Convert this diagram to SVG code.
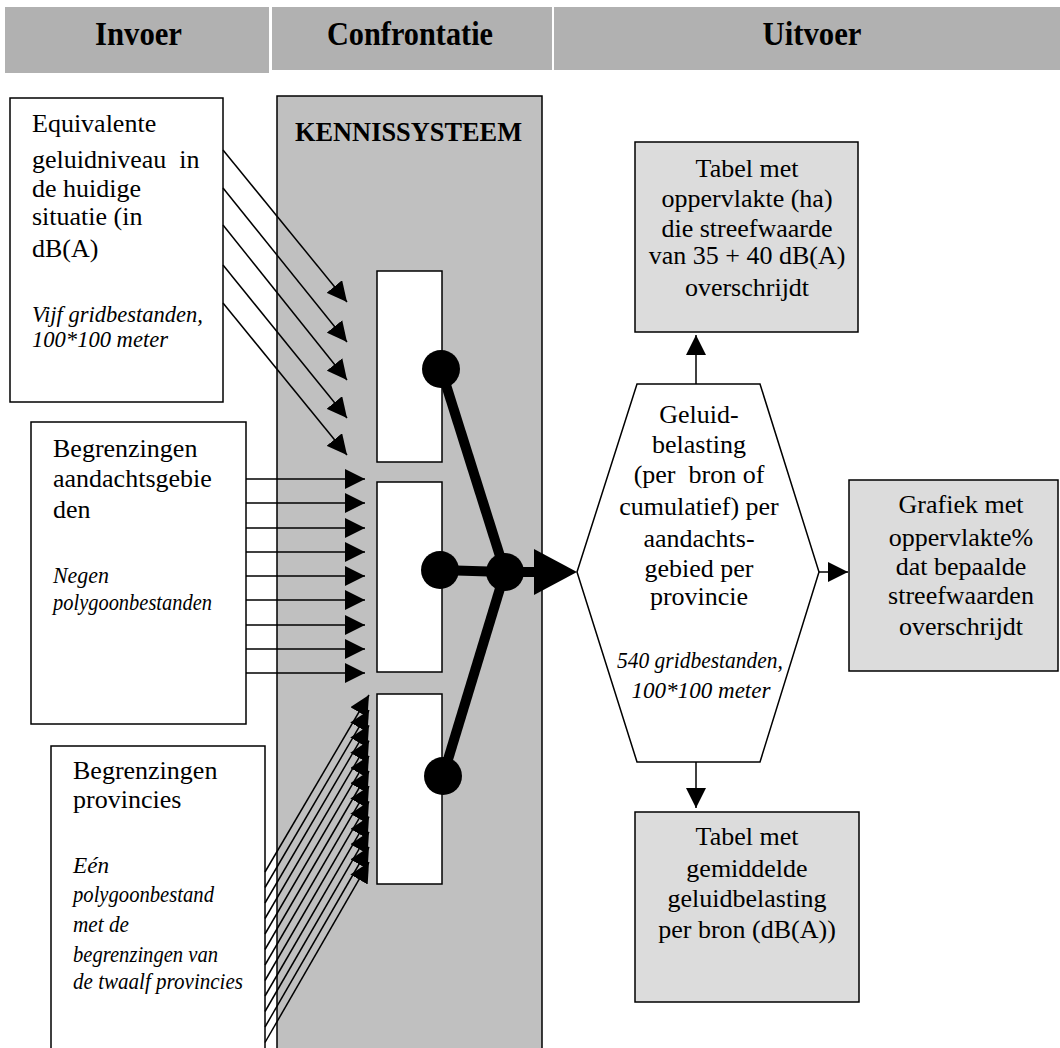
<svg xmlns="http://www.w3.org/2000/svg" width="1060" height="1048" viewBox="0 0 1060 1048">
<style>
.hdr{fill:#b1b1b1;stroke:none}
.ht{font-family:"Liberation Serif",serif;font-weight:bold;font-size:34px;fill:#000;text-anchor:middle}
.box{fill:#fff;stroke:#000;stroke-width:1.5}
.gbox{fill:#dcdcdc;stroke:#000;stroke-width:1.5}
.col{fill:#c0c0c0;stroke:#000;stroke-width:1.5}
.t{font-family:"Liberation Serif",serif;font-size:26px;fill:#000}
.i{font-family:"Liberation Serif",serif;font-size:24px;font-style:italic;fill:#000}
.c{text-anchor:middle}
.ar{stroke:#000;stroke-width:1.5;fill:none;marker-end:url(#ah)}
.thick{stroke:#000;stroke-width:10;fill:none}
</style>
<defs>
<marker id="ah" viewBox="0 0 20 20" refX="20" refY="10" markerWidth="20" markerHeight="20" markerUnits="userSpaceOnUse" orient="auto">
<path d="M0,0 L20,10 L0,20 z" fill="#000"/>
</marker>
</defs>

<g id="header">
<rect class="hdr" x="5" y="7" width="264" height="66"/>
<rect class="hdr" x="272" y="7" width="280" height="63"/>
<rect class="hdr" x="554" y="7" width="506" height="63"/>
<text class="ht" x="138.5" y="45" textLength="87" lengthAdjust="spacingAndGlyphs">Invoer</text>
<text class="ht" x="410" y="45" textLength="166" lengthAdjust="spacingAndGlyphs">Confrontatie</text>
<text class="ht" x="812" y="45" textLength="99" lengthAdjust="spacingAndGlyphs">Uitvoer</text>
</g>

<g id="kennissysteem">
<rect class="col" x="277" y="96" width="265" height="970"/>
<text x="408.5" y="141" font-family="Liberation Serif, serif" font-weight="bold" font-size="26.5" text-anchor="middle" textLength="227" lengthAdjust="spacingAndGlyphs">KENNISSYSTEEM</text>
</g>

<g id="input-geluidniveau">
<rect class="box" x="10" y="98" width="213" height="304"/>
<text class="t" x="32" y="132">Equivalente</text>
<text class="t" x="32" y="168" xml:space="preserve">geluidniveau  in</text>
<text class="t" x="32" y="197">de huidige</text>
<text class="t" x="32" y="225">situatie (in</text>
<text class="t" x="32" y="257">dB(A)</text>
<text class="i" x="32" y="322" textLength="171" lengthAdjust="spacingAndGlyphs">Vijf gridbestanden,</text>
<text class="i" x="32" y="347" textLength="136" lengthAdjust="spacingAndGlyphs">100*100 meter</text>
</g>

<g id="input-aandachtsgebieden">
<rect class="box" x="31" y="422" width="215" height="302"/>
<text class="t" x="53" y="457">Begrenzingen</text>
<text class="t" x="53" y="487">aandachtsgebie</text>
<text class="t" x="53" y="518">den</text>
<text class="i" x="53" y="583" textLength="56" lengthAdjust="spacingAndGlyphs">Negen</text>
<text class="i" x="53" y="610" textLength="159" lengthAdjust="spacingAndGlyphs">polygoonbestanden</text>
</g>

<g id="input-provincies">
<rect class="box" x="51" y="746" width="214" height="320"/>
<text class="t" x="73" y="779">Begrenzingen</text>
<text class="t" x="73" y="808">provincies</text>
<text class="i" x="73" y="873" textLength="36" lengthAdjust="spacingAndGlyphs">Eén</text>
<text class="i" x="73" y="902" textLength="141" lengthAdjust="spacingAndGlyphs">polygoonbestand</text>
<text class="i" x="73" y="932" textLength="56" lengthAdjust="spacingAndGlyphs">met de</text>
<text class="i" x="73" y="962" textLength="145" lengthAdjust="spacingAndGlyphs">begrenzingen van</text>
<text class="i" x="73" y="989" textLength="170" lengthAdjust="spacingAndGlyphs">de twaalf provincies</text>
</g>

<g id="slot-a"><rect class="box" x="377" y="271" width="65" height="191"/></g>
<g id="slot-b"><rect class="box" x="377" y="482" width="65" height="190"/></g>
<g id="slot-c"><rect class="box" x="377" y="694" width="65" height="190"/></g>

<g id="geluidbelasting">
<polygon class="box" points="577,572 637,384 760,384 819,572 760,762 637,762"/>
<text class="t c" x="699" y="423">Geluid-</text>
<text class="t c" x="699" y="453">belasting</text>
<text class="t c" x="699" y="483" xml:space="preserve">(per  bron of</text>
<text class="t c" x="699" y="515">cumulatief) per</text>
<text class="t c" x="699" y="547">aandachts-</text>
<text class="t c" x="699" y="577">gebied per</text>
<text class="t c" x="699" y="605">provincie</text>
<text class="i c" x="700" y="668" textLength="166" lengthAdjust="spacingAndGlyphs">540 gridbestanden,</text>
<text class="i c" x="701" y="698" textLength="139" lengthAdjust="spacingAndGlyphs">100*100 meter</text>
</g>

<g id="tabel-oppervlakte">
<rect class="gbox" x="635" y="142" width="223" height="190"/>
<text class="t c" x="747" y="177">Tabel met</text>
<text class="t c" x="747" y="207">oppervlakte (ha)</text>
<text class="t c" x="747" y="237">die streefwaarde</text>
<text class="t c" x="747" y="264" font-size="24">van 35 + 40 dB(A)</text>
<text class="t c" x="747" y="296">overschrijdt</text>
</g>

<g id="grafiek">
<rect class="gbox" x="849" y="480" width="209" height="191"/>
<text class="t c" x="961" y="513">Grafiek met</text>
<text class="t c" x="961" y="546">oppervlakte%</text>
<text class="t c" x="961" y="575">dat bepaalde</text>
<text class="t c" x="961" y="604">streefwaarden</text>
<text class="t c" x="961" y="635">overschrijdt</text>
</g>

<g id="tabel-gemiddelde">
<rect class="gbox" x="635" y="812" width="224" height="190"/>
<text class="t c" x="747" y="845">Tabel met</text>
<text class="t c" x="747" y="877">gemiddelde</text>
<text class="t c" x="747" y="907">geluidbelasting</text>
<text class="t c" x="747" y="938">per bron (dB(A))</text>
</g>

<g id="connectors">
<line class="ar" x1="223" y1="150" x2="347" y2="302"/>
<line class="ar" x1="223" y1="188" x2="347" y2="342"/>
<line class="ar" x1="223" y1="225" x2="347" y2="380"/>
<line class="ar" x1="223" y1="265" x2="347" y2="418"/>
<line class="ar" x1="223" y1="303" x2="347" y2="455"/>
<line class="ar" x1="246" y1="479" x2="365" y2="479"/>
<line class="ar" x1="246" y1="503" x2="365" y2="503"/>
<line class="ar" x1="246" y1="528" x2="365" y2="528"/>
<line class="ar" x1="246" y1="552" x2="365" y2="552"/>
<line class="ar" x1="246" y1="576" x2="365" y2="576"/>
<line class="ar" x1="246" y1="600" x2="365" y2="600"/>
<line class="ar" x1="246" y1="625" x2="365" y2="625"/>
<line class="ar" x1="246" y1="649" x2="365" y2="649"/>
<line class="ar" x1="246" y1="673" x2="365" y2="673"/>
<line class="ar" x1="265" y1="872" x2="369" y2="695"/>
<line class="ar" x1="265" y1="887.5" x2="369" y2="710.2"/>
<line class="ar" x1="265" y1="903" x2="369" y2="725.4"/>
<line class="ar" x1="265" y1="918.5" x2="369" y2="740.6"/>
<line class="ar" x1="265" y1="934" x2="369" y2="755.8"/>
<line class="ar" x1="265" y1="949.5" x2="369" y2="771"/>
<line class="ar" x1="265" y1="965" x2="369" y2="786.2"/>
<line class="ar" x1="265" y1="980.5" x2="369" y2="801.4"/>
<line class="ar" x1="265" y1="996" x2="369" y2="816.6"/>
<line class="ar" x1="265" y1="1011.5" x2="369" y2="831.8"/>
<line class="ar" x1="265" y1="1027" x2="369" y2="847"/>
<line class="ar" x1="265" y1="1042.5" x2="369" y2="862.2"/>
<line class="thick" x1="441" y1="369" x2="505" y2="572"/>
<line class="thick" x1="440" y1="570" x2="505" y2="572"/>
<line class="thick" x1="443" y1="776" x2="505" y2="572"/>
<line class="thick" x1="505" y1="572" x2="536" y2="572"/>
<circle cx="441" cy="369" r="19" fill="#000"/>
<circle cx="440" cy="570" r="19" fill="#000"/>
<circle cx="443" cy="776" r="19" fill="#000"/>
<circle cx="505" cy="572" r="19" fill="#000"/>
<polygon points="534,549 577,572 534,595" fill="#000"/>
<line class="ar" x1="696" y1="384" x2="696" y2="335"/>
<line class="ar" x1="819" y1="572" x2="848" y2="572"/>
<line class="ar" x1="696" y1="762" x2="696" y2="808"/>
</g>
</svg>
